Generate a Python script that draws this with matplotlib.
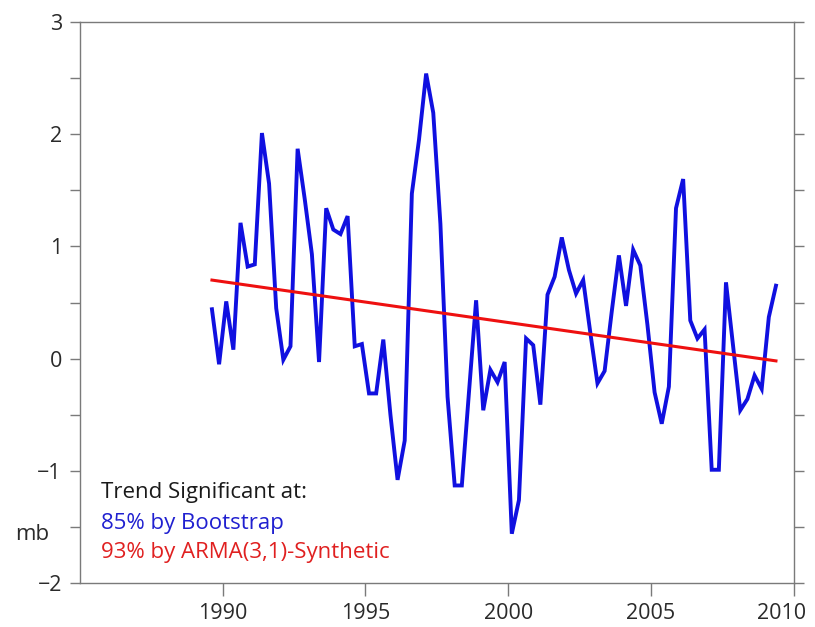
import numpy as np
import matplotlib.pyplot as plt
from matplotlib.ticker import MultipleLocator
from matplotlib.transforms import ScaledTranslation

plt.rcParams['font.family'] = ['Open Sans', 'DejaVu Sans']

# quarterly anomaly (mb), first point at 1989.625
t0 = 1989.625
anom = [0.44, -0.05, 0.51, 0.08, 1.21, 0.82, 0.84, 2.01, 1.56, 0.45,
        -0.01, 0.11, 1.87, 1.42, 0.93, -0.03, 1.34, 1.15, 1.11, 1.27,
        0.11, 0.13, -0.31, -0.31, 0.17, -0.50, -1.08, -0.73, 1.47, 1.95,
        2.54, 2.19, 1.20, -0.34, -1.13, -1.13, -0.30, 0.52, -0.46, -0.10,
        -0.21, -0.03, -1.56, -1.26, 0.18, 0.12, -0.41, 0.57, 0.73, 1.08,
        0.79, 0.58, 0.70, 0.23, -0.22, -0.11, 0.42, 0.92, 0.47, 0.97,
        0.83, 0.30, -0.30, -0.58, -0.25, 1.34, 1.60, 0.34, 0.18, 0.26,
        -0.99, -0.99, 0.68, 0.11, -0.46, -0.36, -0.15, -0.27, 0.37, 0.65]
years = t0 + 0.25 * np.arange(len(anom))

# linear trend end values
trend_x = [years[0], years[-1]]
trend_y = [0.70, -0.02]

fig = plt.figure(figsize=(8.15, 6.27), dpi=100)
sub = fig.add_axes([0.098, 0.070, 0.876, 0.895])

sub.plot(years, anom, color='#1010e0', linewidth=2.8, solid_joinstyle='miter')
sub.plot(trend_x, trend_y, color='#ee1010', linewidth=2.2)

sub.set_xlim(1985, 2010)
sub.set_ylim(-2, 3)
sub.set_xticks([1990, 1995, 2000, 2005, 2010])
sub.yaxis.set_major_locator(MultipleLocator(1))
sub.yaxis.set_minor_locator(MultipleLocator(0.5))

for s in sub.spines.values():
    s.set_color('#7a7a7a')
    s.set_linewidth(1.0)
sub.tick_params(axis='x', which='major', direction='out', length=9, width=1,
                color='#7a7a7a', labelsize=15.5, labelcolor='#2a2a2a', pad=5)
sub.tick_params(axis='y', which='both', direction='out', length=7, width=1,
                color='#7a7a7a', labelsize=15.5, labelcolor='#2a2a2a', pad=6,
                right=True, labelright=False)

# last year label sits a little left of its tick, as in the original
fig.canvas.draw()
lab = sub.get_xticklabels()[-1]
lab.set_transform(lab.get_transform() + ScaledTranslation(-0.12, 0, fig.dpi_scale_trans))

sub.text(0.030, 0.162, 'Trend Significant at:', fontsize=16, color='#1a1a1a',
         ha='left', va='center', transform=sub.transAxes)
sub.text(0.030, 0.107, '85% by Bootstrap', fontsize=16, color='#2020d0',
         ha='left', va='center', transform=sub.transAxes)
sub.text(0.030, 0.055, '93% by ARMA(3,1)-Synthetic', fontsize=16, color='#e02020',
         ha='left', va='center', transform=sub.transAxes)

fig.text(32 / 815, 1 - 535 / 627, 'mb', fontsize=16, color='#2a2a2a',
         ha='center', va='center')

fig.savefig('out.png', dpi=100)
